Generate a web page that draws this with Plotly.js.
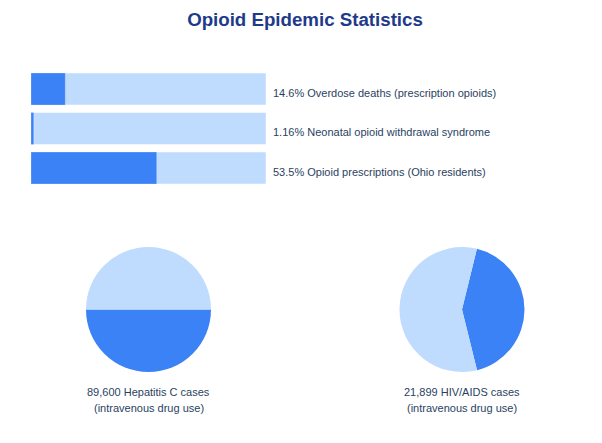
<!DOCTYPE html>
<html>
<head>
<meta charset="utf-8">
<script src="https://cdn.plot.ly/plotly-3.0.1.min.js"></script>
<style>html,body{margin:0;padding:0;background:#fff;}#chart{width:602px;height:443px;}</style>
</head>
<body>
<div id="chart"></div>
<script>
// ---- data ----
const barCategories = ["Overdose deaths (prescription opioids)", "Neonatal opioid withdrawal syndrome", "Opioid prescriptions (Ohio residents)"];
const barValues = [14.6, 1.16, 53.5];
const barLabels = ["14.6%", "1.16%", "53.5%"];
const barMax = [100, 100, 100];

const pieNames = ["Hepatitis C", "HIV/AIDS"];
const pieCounts = ["89,600", "21,899"];
const pieShares = [50, 42.3];           // share of cases (dark slice), %
const pieRest = [50, 57.7];             // remaining share (light slice), %
const pieSubLabel = "(intravenous drug use)";

// ---- style ----
const DARK = "#3b82f6", LIGHT = "#bfdbfe", TXT = "#2a3f5f";
const W = 602, H = 443;

const traces = [
  {type: "bar", orientation: "h", y: barCategories, x: barMax,
   marker: {color: LIGHT, line: {color: "rgba(255,255,255,0.5)", width: 1}},
   hoverinfo: "skip", showlegend: false},
  {type: "bar", orientation: "h", y: barCategories, x: barValues,
   marker: {color: DARK, line: {color: "rgba(255,255,255,0.25)", width: 1}},
   showlegend: false},
];

const pieDomains = [
  {x: [86 / W, 211 / W], y: [(H - 372) / H, (H - 247) / H]},
  {x: [399 / W, 525 / W], y: [(H - 372) / H, (H - 247) / H]}
];
const pieRotations = [90, 13.8];
for (let i = 0; i < pieNames.length; i++) {
  traces.push({
    type: "pie", values: [pieShares[i], pieRest[i]], labels: ["IV drug use", "Other"],
    marker: {colors: [DARK, LIGHT], line: {width: 0}},
    sort: false, direction: "clockwise", rotation: pieRotations[i],
    textinfo: "none", hoverinfo: "label+percent", showlegend: false,
    domain: pieDomains[i]
  });
}

const annotations = barCategories.map((c, i) => ({
  xref: "paper", yref: "y", x: 271 / W, y: c, xanchor: "left", yanchor: "middle", yshift: -4,
  text: barLabels[i] + " " + c, showarrow: false,
  font: {family: "Arial, Liberation Sans, sans-serif", size: 11, color: TXT}
}));
const pieCx = [148.5 / W, 462 / W];
for (let i = 0; i < pieNames.length; i++) {
  annotations.push({
    xref: "paper", yref: "paper", x: pieCx[i], y: (H - 391.5) / H, xanchor: "center", yanchor: "middle",
    text: pieCounts[i] + " " + pieNames[i] + " cases", showarrow: false,
    font: {family: "Arial, Liberation Sans, sans-serif", size: 11, color: TXT}
  });
  annotations.push({
    xref: "paper", yref: "paper", x: pieCx[i], y: (H - 407.5) / H, xanchor: "center", yanchor: "middle",
    text: pieSubLabel, showarrow: false,
    font: {family: "Arial, Liberation Sans, sans-serif", size: 11, color: TXT}
  });
}

const layout = {
  width: W, height: H,
  margin: {l: 0, r: 0, t: 0, b: 0},
  paper_bgcolor: "#fff", plot_bgcolor: "#fff",
  title: {text: "<b>Opioid Epidemic Statistics</b>", x: 305 / W, xanchor: "center", y: (H - 19) / H, yanchor: "middle",
          font: {family: "Arial, Liberation Sans, sans-serif", size: 18.7, color: "#1e3a8a"}},
  barmode: "overlay", bargap: 0.19,
  xaxis: {domain: [31 / W, 266 / W], range: [0, 100], visible: false, fixedrange: true},
  yaxis: {domain: [(H - 187.75) / H, (H - 69.25) / H], autorange: "reversed", visible: false, fixedrange: true},
  annotations: annotations,
  showlegend: false
};

Plotly.newPlot("chart", traces, layout, {displayModeBar: false, staticPlot: true});
</script>
</body>
</html>
